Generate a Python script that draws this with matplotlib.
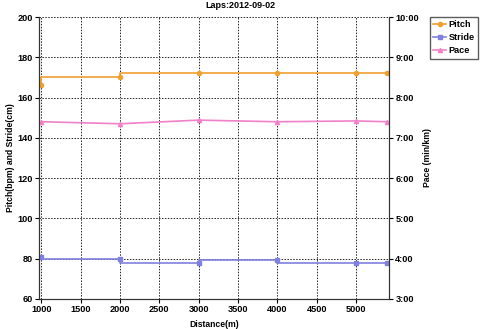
import matplotlib
matplotlib.use("Agg")
import matplotlib.pyplot as plt
from matplotlib.ticker import FuncFormatter

distance = [1000, 2000, 3000, 4000, 5000, 5400]
pitch = [166, 170, 172, 172, 172, 172]
stride = [81, 80, 78, 79.2, 78, 78]
pace = [7.40, 7.35, 7.44, 7.40, 7.42, 7.40]  # minutes per km

left_ticks = [60, 80, 100, 120, 140, 160, 180, 200]
right_ticks = [3, 4, 5, 6, 7, 8, 9, 10]
x_ticks = [1000, 1500, 2000, 2500, 3000, 3500, 4000, 4500, 5000]

c_pitch = "#F0A030"
c_stride = "#8080E0"
c_pace = "#F080C8"

plt.rcParams['font.family'] = ['Liberation Sans', 'DejaVu Sans']
plt.rcParams['font.weight'] = 'bold'
FS = 6.2

fig = plt.figure(figsize=(4.8, 3.29), dpi=100)
ax = fig.add_axes([39/480, 1 - 299/329, (389-39)/480, (299-17)/329])
ax2 = ax.twinx()

l1, = ax.plot(distance, pitch, drawstyle='steps-pre', color=c_pitch, lw=1.2,
              marker='o', ms=3, label='Pitch')
l2, = ax.plot(distance, stride, drawstyle='steps-pre', color=c_stride, lw=1.2,
              marker='s', ms=3.5, label='Stride')
l3, = ax2.plot(distance, pace, color=c_pace, lw=1.2, marker='^', ms=3, label='Pace')

ax.set_xlim(970, 5420)
ax.set_ylim(60, 200)
ax2.set_ylim(3, 10)
ax.set_xticks(x_ticks)
ax.set_yticks(left_ticks)
ax2.set_yticks(right_ticks)
ax2.yaxis.set_major_formatter(FuncFormatter(lambda v, p: f"{int(v)}:00"))

ax.grid(True, color='#222222', linestyle=(0, (1.5, 1.5)), lw=0.7)
ax.set_axisbelow(True)
for a in (ax, ax2):
    a.spines['top'].set_visible(False)
    for s in ('left', 'right', 'bottom'):
        a.spines[s].set_color('#333333')
    a.tick_params(labelsize=FS + 0.4, length=3, width=0.8, pad=1.5)

ax.set_xlabel('Distance(m)', fontsize=FS, fontweight='bold', labelpad=4)
ax.set_ylabel('Pitch(bpm) and Stride(cm)', fontsize=FS, fontweight='bold', labelpad=2)
ax2.set_ylabel('Pace (min/km)', fontsize=FS, fontweight='bold', labelpad=3)
fig.text(240/480, 1 - 6/329, 'Laps:2012-09-02', fontsize=FS + 0.3, fontweight='bold',
         ha='center', va='center')

fig.legend(handles=[l1, l2, l3], loc='upper left', bbox_to_anchor=(430/480, 1 - 17/329),
           fontsize=FS + 0.4, frameon=True, fancybox=False, edgecolor='#333333',
           handlelength=1.4, handletextpad=0.3, borderpad=0.35, labelspacing=0.45,
           borderaxespad=0)

fig.savefig('out.png', dpi=100)
